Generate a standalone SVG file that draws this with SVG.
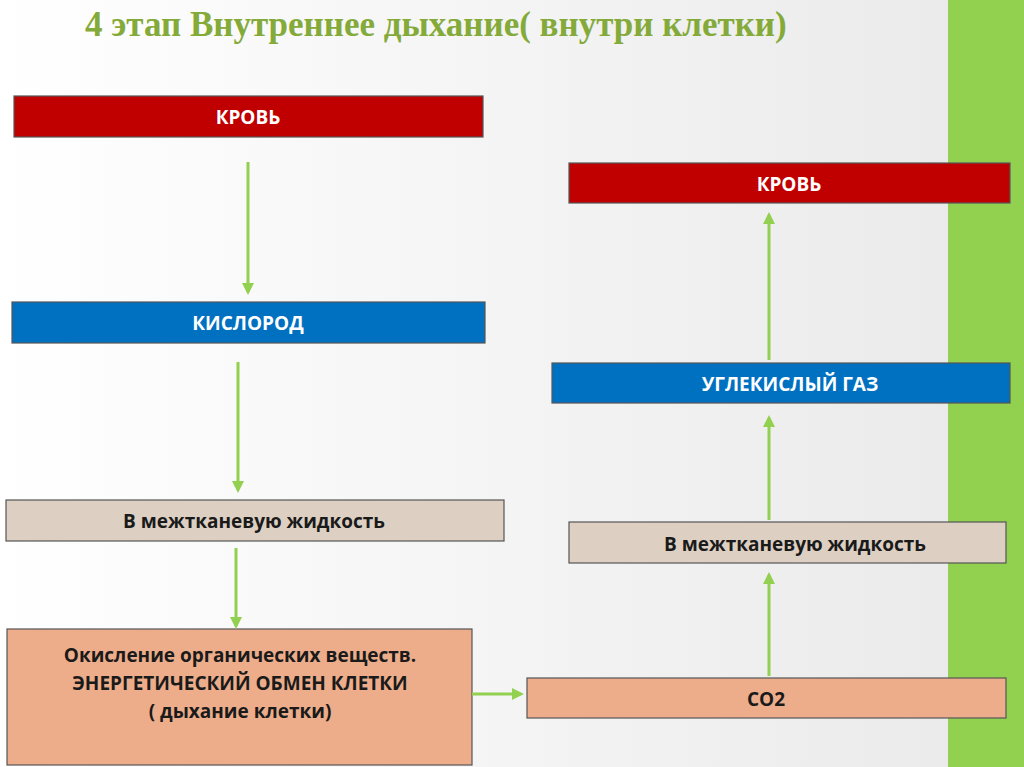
<svg xmlns="http://www.w3.org/2000/svg" width="1024" height="767" viewBox="0 0 1024 767">
<defs>
<linearGradient id="bg" x1="0" y1="0" x2="1" y2="0"><stop offset="0" stop-color="#ffffff"/><stop offset="1" stop-color="#e9e9e9"/></linearGradient>
<marker id="ah" markerWidth="4" markerHeight="4" refX="3" refY="2" orient="auto" markerUnits="strokeWidth"><path d="M0,0 L4,2 L0,4 z" fill="#92D050"/></marker>
<style>
.b{stroke:#555;stroke-width:1.2}
.w{font-family:"Open Sans","Liberation Sans",Arial,sans-serif;font-weight:bold;font-size:19px;fill:#fff;text-anchor:middle}
.k{font-family:"Open Sans","Liberation Sans",Arial,sans-serif;font-weight:bold;font-size:19px;fill:#1a1a1a;text-anchor:middle}
.c line{stroke:#92D050;stroke-width:3;marker-end:url(#ah)}
</style>
</defs>
<rect width="1024" height="767" fill="url(#bg)"/>
<rect x="948" y="0" width="76" height="767" fill="#92D050"/>
<text x="85" y="36" font-family="Liberation Serif,serif" font-weight="bold" font-size="35" fill="#84AA3A">4 этап Внутреннее дыхание( внутри клетки)</text>
<g id="krov1"><rect class="b" x="14" y="96" width="469" height="41" fill="#C00000"/><text class="w" x="248" y="124">КРОВЬ</text></g>
<g id="krov2"><rect class="b" x="569" y="163" width="441" height="40" fill="#C00000"/><text class="w" x="789" y="191">КРОВЬ</text></g>
<g id="kislorod"><rect class="b" x="12" y="302" width="473" height="41" fill="#0070C0"/><text class="w" x="248" y="330">КИСЛОРОД</text></g>
<g id="ugl"><rect class="b" x="552" y="363" width="458" height="40" fill="#0070C0"/><text class="w" x="790" y="391">УГЛЕКИСЛЫЙ ГАЗ</text></g>
<g id="mezh1"><rect class="b" x="6" y="500" width="498" height="41" fill="#DDD0C3"/><text class="k" x="254" y="528">В межтканевую жидкость</text></g>
<g id="mezh2"><rect class="b" x="569" y="522" width="437" height="41" fill="#DDD0C3"/><text class="k" x="795" y="551">В межтканевую жидкость</text></g>
<g id="okisl"><rect class="b" x="7" y="629" width="465" height="136" fill="#EDAD8A"/><text class="k" x="240" y="662">Окисление органических веществ.</text><text class="k" x="240" y="690">ЭНЕРГЕТИЧЕСКИЙ ОБМЕН КЛЕТКИ</text><text class="k" x="240" y="718">( дыхание клетки)</text></g>
<g id="co2"><rect class="b" x="527" y="678" width="479" height="40" fill="#EDAD8A"/><text class="k" x="766" y="706">CO2</text></g>
<g class="c">
<line x1="248" y1="162" x2="248" y2="292"/>
<line x1="238" y1="362" x2="238" y2="490"/>
<line x1="236" y1="548" x2="236" y2="626"/>
<line x1="472" y1="694" x2="521" y2="694"/>
<line x1="769" y1="676" x2="769" y2="575"/>
<line x1="769" y1="520" x2="769" y2="418"/>
<line x1="769" y1="360" x2="769" y2="215"/>
</g>
</svg>
